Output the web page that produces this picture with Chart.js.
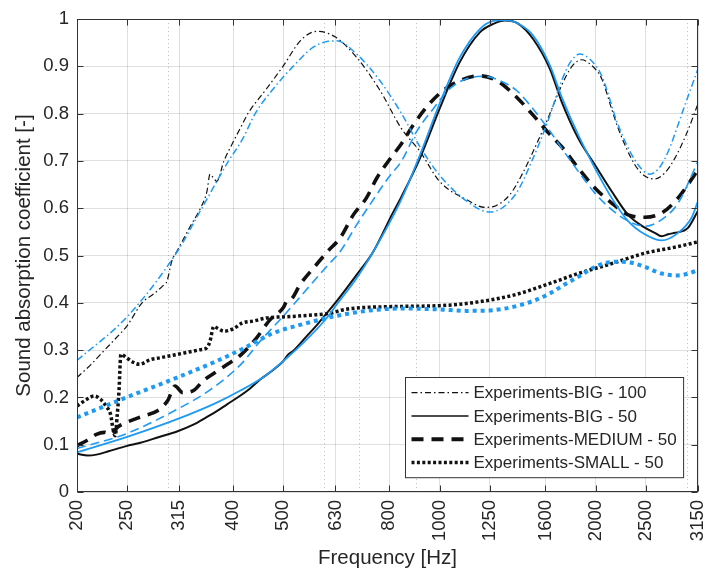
<!DOCTYPE html>
<html>
<head>
<meta charset="utf-8">
<script src="https://cdn.jsdelivr.net/npm/chart.js@4.4.1/dist/chart.umd.min.js"></script>
<style>
  html, body { margin: 0; padding: 0; background: #fff; }
  #wrap { width: 706px; height: 574px; }
</style>
</head>
<body>
<div id="wrap"><canvas id="chart" width="706" height="574"></canvas></div>
<script>
/* ── Axis ticks ── */
const X_TICKS = [200, 250, 315, 400, 500, 630, 800, 1000, 1250, 1600, 2000, 2500, 3150];
const X_MINOR = [300, 600, 700, 900, 3000];
const Y_TICKS = [0, 0.1, 0.2, 0.3, 0.4, 0.5, 0.6, 0.7, 0.8, 0.9, 1];

/* ── Experiments-BIG - 100 (black dash-dot) ── */
const bigExp100F = [200, 213, 226, 240, 250, 267, 282, 294, 298, 305, 312, 330, 346, 356, 361, 366, 372, 384, 400, 416, 427, 462, 499, 540, 580, 630, 692, 767, 844, 917, 1000, 1128, 1223, 1288, 1367, 1440, 1515, 1618, 1720, 1800, 1879, 1950, 2054, 2147, 2210, 2380, 2488, 2601, 2720, 2843, 3000, 3150];
const bigExp100A = [0.242, 0.27, 0.30, 0.33, 0.352, 0.40, 0.42, 0.438, 0.445, 0.49, 0.51, 0.56, 0.60, 0.635, 0.672, 0.665, 0.657, 0.70, 0.74, 0.776, 0.80, 0.85, 0.90, 0.955, 0.974, 0.962, 0.919, 0.85, 0.769, 0.72, 0.657, 0.618, 0.602, 0.606, 0.629, 0.67, 0.72, 0.79, 0.86, 0.90, 0.914, 0.905, 0.874, 0.81, 0.769, 0.692, 0.668, 0.662, 0.675, 0.706, 0.76, 0.821];

/* ── Simulation BIG - 100 (blue dash-dot) ── */
const bigSim100F = [200, 250, 312, 348, 392, 416, 441, 480, 522, 570, 610, 633, 692, 767, 845, 917, 1000, 1128, 1251, 1400, 1515, 1620, 1720, 1790, 1865, 1950, 2054, 2210, 2380, 2544, 2650, 2760, 2880, 2972, 3150];
const bigSim100A = [0.278, 0.371, 0.508, 0.60, 0.70, 0.744, 0.80, 0.855, 0.90, 0.94, 0.953, 0.954, 0.926, 0.87, 0.80, 0.73, 0.67, 0.615, 0.592, 0.629, 0.706, 0.786, 0.87, 0.91, 0.926, 0.915, 0.88, 0.776, 0.702, 0.672, 0.685, 0.72, 0.775, 0.818, 0.895];

/* ── Experiments-BIG - 50 (black solid) ── */
const bigExp50F = [200, 210, 218, 230, 249, 265, 289, 310, 336, 355, 372, 390, 412, 430, 451, 475, 500, 510, 522, 554, 580, 606, 633, 692, 745, 809, 845, 917, 1000, 1094, 1196, 1270, 1337, 1420, 1515, 1632, 1720, 1851, 1993, 2147, 2310, 2488, 2600, 2681, 2760, 2843, 2950, 3016, 3150];
const bigExp50A = [0.081, 0.077, 0.079, 0.086, 0.097, 0.104, 0.117, 0.127, 0.143, 0.158, 0.171, 0.186, 0.203, 0.218, 0.238, 0.256, 0.277, 0.290, 0.298, 0.329, 0.353, 0.378, 0.403, 0.459, 0.508, 0.586, 0.625, 0.706, 0.81, 0.909, 0.972, 0.99, 0.997, 0.99, 0.958, 0.895, 0.825, 0.748, 0.692, 0.636, 0.586, 0.559, 0.548, 0.541, 0.545, 0.548, 0.552, 0.559, 0.595];

/* ── Simulation BIG - 50 (blue solid) ── */
const bigSim50F = [200, 249, 312, 372, 414, 460, 500, 554, 606, 633, 692, 745, 845, 917, 1000, 1094, 1196, 1270, 1337, 1420, 1515, 1632, 1720, 1851, 1993, 2147, 2310, 2488, 2681, 2884, 3061, 3150];
const bigSim50A = [0.084, 0.116, 0.154, 0.189, 0.215, 0.245, 0.277, 0.322, 0.368, 0.396, 0.452, 0.508, 0.62, 0.713, 0.821, 0.919, 0.979, 0.996, 0.998, 0.99, 0.965, 0.902, 0.835, 0.755, 0.685, 0.622, 0.573, 0.545, 0.532, 0.548, 0.58, 0.615];

/* ── Experiments-MEDIUM - 50 (black bold dashed) ── */
const medExp50F = [200, 209, 218, 226, 232, 240, 249, 269, 286, 299, 309, 320, 336, 350, 372, 390, 414, 441, 471, 500, 507, 520, 538, 575, 610, 643, 682, 723, 757, 796, 845, 890, 944, 1016, 1094, 1196, 1288, 1387, 1515, 1620, 1720, 1851, 1993, 2147, 2310, 2488, 2681, 2884, 3150];
const medExp50A = [0.098, 0.109, 0.122, 0.126, 0.122, 0.138, 0.147, 0.161, 0.172, 0.193, 0.224, 0.21, 0.215, 0.235, 0.255, 0.27, 0.29, 0.322, 0.364, 0.39, 0.403, 0.41, 0.438, 0.477, 0.51, 0.537, 0.586, 0.622, 0.664, 0.699, 0.737, 0.776, 0.814, 0.849, 0.87, 0.88, 0.87, 0.842, 0.797, 0.76, 0.73, 0.685, 0.643, 0.611, 0.586, 0.581, 0.59, 0.622, 0.681];

/* ── Simulation MEDIUM - 50 (blue dashed) ── */
const medSim50F = [200, 250, 312, 360, 414, 451, 500, 554, 606, 643, 692, 745, 796, 845, 903, 972, 1047, 1128, 1214, 1307, 1408, 1515, 1620, 1720, 1851, 1993, 2147, 2310, 2488, 2681, 2884, 3150];
const medSim50A = [0.092, 0.124, 0.175, 0.215, 0.27, 0.319, 0.372, 0.428, 0.477, 0.508, 0.565, 0.618, 0.664, 0.70, 0.762, 0.81, 0.853, 0.874, 0.879, 0.87, 0.849, 0.81, 0.768, 0.727, 0.678, 0.632, 0.597, 0.573, 0.562, 0.576, 0.611, 0.699];

/* ── Experiments-SMALL - 50 (black dotted) ── */
const smallExp50F = [200, 209, 216, 222, 228, 232, 235, 237, 239, 241, 243, 249, 256, 264, 277, 290, 299, 322, 346, 356, 361, 367, 375, 384, 400, 416, 440, 464, 515, 580, 615, 650, 692, 809, 1000, 1094, 1251, 1408, 1632, 1851, 2147, 2488, 2884, 3150];
const smallExp50A = [0.182, 0.196, 0.203, 0.196, 0.18, 0.165, 0.13, 0.119, 0.16, 0.214, 0.291, 0.284, 0.275, 0.27, 0.28, 0.284, 0.287, 0.294, 0.301, 0.305, 0.319, 0.35, 0.345, 0.34, 0.345, 0.357, 0.362, 0.368, 0.371, 0.375, 0.378, 0.385, 0.389, 0.392, 0.394, 0.397, 0.406, 0.418, 0.441, 0.462, 0.483, 0.505, 0.519, 0.529];

/* ── Simulation SMALL - 50 (blue dotted) ── */
const smallSim50F = [200, 249, 312, 372, 416, 478, 554, 624, 723, 845, 1000, 1128, 1251, 1367, 1515, 1632, 1750, 1851, 1993, 2100, 2244, 2380, 2488, 2681, 2884, 3020, 3150];
const smallSim50A = [0.158, 0.2, 0.242, 0.277, 0.302, 0.336, 0.357, 0.371, 0.383, 0.388, 0.386, 0.383, 0.384, 0.39, 0.404, 0.42, 0.44, 0.455, 0.476, 0.485, 0.487, 0.483, 0.476, 0.462, 0.458, 0.462, 0.47];

/* ── Styles ── */
const BLACK = '#111111';
const BLUE = '#1e9af2';
const AXIS_COLOR = '#333333';
const TEXT_COLOR = '#262626';
const GRID_COLOR = 'rgba(38,38,38,0.15)';
const FONT = "'Liberation Sans', Arial, Helvetica, sans-serif";

const pts = (f, a) => f.map((v, i) => ({ x: v, y: a[i] }));

function series(label, f, a, color, width, dash, order, legendWidth) {
    return {
        label,
        data: pts(f, a),
        borderColor: color,
        borderWidth: width,
        borderDash: dash,
        borderCapStyle: 'butt',
        borderJoinStyle: 'round',
        pointRadius: 0,
        fill: false,
        cubicInterpolationMode: 'monotone',
        order,
        legendWidth
    };
}

const datasets = [
    series('Experiments-BIG - 100', bigExp100F, bigExp100A, BLACK, 1.2, [6, 3, 1.5, 3], 1, 1.1),
    series('Experiments-BIG - 50', bigExp50F, bigExp50A, BLACK, 2, [], 1, 1.4),
    series('Experiments-MEDIUM - 50', medExp50F, medExp50A, BLACK, 3.6, [12, 8], 1, 4),
    series('Experiments-SMALL - 50', smallExp50F, smallExp50A, BLACK, 3.5, [3, 2.4], 1, 3.5),
    series('Simulation-BIG - 100', bigSim100F, bigSim100A, BLUE, 1.5, [7, 3, 1.5, 3], 0),
    series('Simulation-BIG - 50', bigSim50F, bigSim50A, BLUE, 1.8, [], 0),
    series('Simulation-MEDIUM - 50', medSim50F, medSim50A, BLUE, 1.6, [9, 5], 0),
    series('Simulation-SMALL - 50', smallSim50F, smallSim50A, BLUE, 4, [4, 4], 0)
];

/* ── Minor grid, box, inward ticks and legend ── */
const framePlugin = {
    id: 'frame',
    beforeDatasetsDraw(chart) {
        const { ctx, chartArea: a, scales: { x } } = chart;
        ctx.save();
        ctx.strokeStyle = 'rgba(38,38,38,0.3)';
        ctx.lineWidth = 1;
        ctx.setLineDash([1, 3]);
        X_MINOR.forEach(f => {
            const px = Math.round(x.getPixelForValue(f)) + 0.5;
            ctx.beginPath();
            ctx.moveTo(px, a.top);
            ctx.lineTo(px, a.bottom);
            ctx.stroke();
        });
        ctx.restore();
    },
    afterDraw(chart) {
        const { ctx, chartArea: a, scales: { x, y } } = chart;
        const L = Math.round(a.left) + 0.5, R = Math.round(a.right) - 0.5;
        const T = Math.round(a.top) + 0.5, B = Math.round(a.bottom) - 0.5;
        const TL = 6;
        ctx.save();
        ctx.strokeStyle = AXIS_COLOR;
        ctx.lineWidth = 1;
        ctx.setLineDash([]);
        ctx.strokeRect(L, T, R - L, B - T);
        ctx.beginPath();
        X_TICKS.forEach(f => {
            const px = Math.round(x.getPixelForValue(f)) + 0.5;
            ctx.moveTo(px, B); ctx.lineTo(px, B - TL);
            ctx.moveTo(px, T); ctx.lineTo(px, T + TL);
        });
        Y_TICKS.forEach(v => {
            const py = Math.round(y.getPixelForValue(v)) + 0.5;
            ctx.moveTo(L, py); ctx.lineTo(L + TL, py);
            ctx.moveTo(R, py); ctx.lineTo(R - TL, py);
        });
        ctx.stroke();

        // legend box, bottom right inside the axes
        const items = chart.data.datasets.filter(d => d.label.startsWith('Experiments'));
        ctx.font = `17px ${FONT}`;
        const textW = Math.max(...items.map(d => ctx.measureText(d.label).width));
        const sampleW = 57, padL = 6, gap = 5, padR = 7, rowH = 23.3;
        const w = padL + sampleW + gap + textW + padR;
        const h = items.length * rowH + 7;
        const bx = Math.round(a.right - 15 - w) + 0.5;
        const by = Math.round(a.bottom - 15 - h) + 0.5;
        ctx.fillStyle = '#ffffff';
        ctx.fillRect(bx, by, w, h);
        ctx.strokeStyle = AXIS_COLOR;
        ctx.lineWidth = 1;
        ctx.strokeRect(bx, by, w, h);
        ctx.textBaseline = 'middle';
        ctx.textAlign = 'left';
        items.forEach((d, i) => {
            const cy = by + 3.5 + rowH * (i + 0.5);
            ctx.strokeStyle = d.borderColor;
            ctx.lineWidth = d.legendWidth;
            ctx.lineCap = 'butt';
            ctx.setLineDash(d.borderDash);
            ctx.beginPath();
            ctx.moveTo(bx + padL, cy);
            ctx.lineTo(bx + padL + sampleW, cy);
            ctx.stroke();
            ctx.fillStyle = TEXT_COLOR;
            ctx.fillText(d.label, bx + padL + sampleW + gap, cy + 1);
        });
        ctx.restore();
    }
};

new Chart(document.getElementById('chart'), {
    type: 'line',
    data: { datasets },
    options: {
        responsive: false,
        animation: false,
        events: [],
        layout: { padding: { left: 0, top: 16, right: 8, bottom: 0 } },
        plugins: { legend: { display: false }, tooltip: { enabled: false } },
        scales: {
            x: {
                type: 'logarithmic',
                min: 200,
                max: 3150,
                afterBuildTicks: s => { s.ticks = X_TICKS.map(v => ({ value: v })); },
                afterFit: s => { s.height = 82; s.paddingLeft = 0; s.paddingRight = 0; },
                ticks: {
                    autoSkip: false,
                    minRotation: 90,
                    maxRotation: 90,
                    padding: 8,
                    color: TEXT_COLOR,
                    font: { family: FONT, size: 18.5 },
                    callback: v => String(v)
                },
                grid: { color: GRID_COLOR, drawTicks: false },
                border: { display: false },
                title: {
                    display: true,
                    text: 'Frequency [Hz]',
                    color: TEXT_COLOR,
                    font: { family: FONT, size: 20.5 },
                    padding: { top: 0, bottom: 3 }
                }
            },
            y: {
                type: 'linear',
                min: 0,
                max: 1,
                afterBuildTicks: s => { s.ticks = Y_TICKS.map(v => ({ value: v })); },
                afterFit: s => { s.width = 77; },
                ticks: {
                    padding: 8,
                    color: TEXT_COLOR,
                    font: { family: FONT, size: 18.5 },
                    callback: v => String(Number(v.toFixed(1)))
                },
                grid: { color: GRID_COLOR, drawTicks: false },
                border: { display: false },
                title: {
                    display: true,
                    text: 'Sound absorption coefficient [-]',
                    color: TEXT_COLOR,
                    font: { family: FONT, size: 20.5 },
                    padding: { top: 12, bottom: 0 }
                }
            }
        }
    },
    plugins: [framePlugin]
});
</script>
</body>
</html>
